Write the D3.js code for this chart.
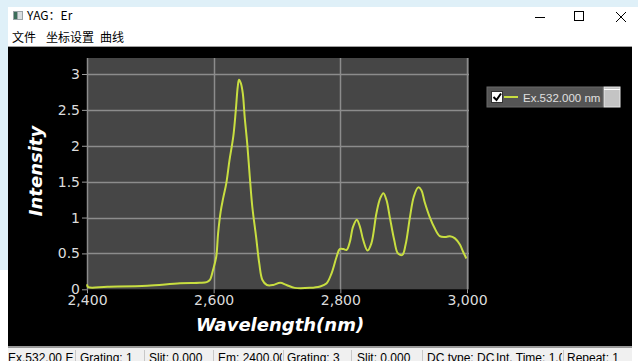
<!DOCTYPE html>
<html>
<head>
<meta charset="utf-8">
<script src="https://cdn.jsdelivr.net/npm/d3@7/dist/d3.min.js"></script>
<style>
  html, body { margin: 0; padding: 0; background: #ffffff; overflow: hidden; }
  svg { display: block; }
</style>
</head>
<body>
<svg id="win" width="638" height="361"></svg>
<script>
// Emission spectrum (Ex. 532 nm), YAG:Er sample
const wavelength = [2400, 2402, 2432, 2495, 2547, 2578, 2589, 2594, 2599, 2604, 2607, 2611, 2615, 2620, 2625, 2631, 2635, 2638, 2640, 2643, 2646, 2649, 2653, 2657, 2661, 2667, 2672, 2677, 2684, 2694, 2705, 2715, 2728, 2752, 2768, 2778, 2786, 2794, 2799, 2805, 2810, 2815, 2820, 2826, 2831, 2836, 2843, 2849, 2857, 2863, 2868, 2873, 2878, 2885, 2891, 2898, 2903, 2910, 2916, 2923, 2928, 2933, 2941, 2949, 2957, 2967, 2973, 2981, 2989, 2994, 2999];
const intensity  = [0.07, 0.03, 0.036, 0.05, 0.084, 0.09, 0.10, 0.13, 0.27, 0.45, 0.78, 1.08, 1.27, 1.48, 1.80, 2.13, 2.50, 2.82, 2.92, 2.87, 2.73, 2.40, 2.03, 1.57, 1.15, 0.73, 0.36, 0.13, 0.06, 0.06, 0.09, 0.06, 0.02, 0.02, 0.04, 0.08, 0.22, 0.45, 0.56, 0.56, 0.55, 0.66, 0.87, 0.97, 0.87, 0.69, 0.54, 0.64, 1.06, 1.27, 1.34, 1.24, 1.01, 0.69, 0.50, 0.48, 0.62, 1.01, 1.29, 1.42, 1.38, 1.22, 1.01, 0.85, 0.74, 0.73, 0.74, 0.71, 0.62, 0.52, 0.43];

const xTicks = [2400, 2600, 2800, 3000];
const yTicks = [0, 0.5, 1, 1.5, 2, 2.5, 3];
const menuItems = ["文件", "坐标设置", "曲线"];
const statusCells = [
  {text: "Ex.532.00   E", x: 8, end: 75},
  {text: "Grating: 1", x: 80, end: 144},
  {text: "Slit: 0.000", x: 149, end: 213},
  {text: "Em: 2400.00", x: 218, end: 283},
  {text: "Grating: 3", x: 287, end: 351},
  {text: "Slit: 0.000", x: 357, end: 422},
  {text: "DC type: DCS", x: 427, end: 496},
  {text: "Int. Time: 1.0(", x: 496, end: 563},
  {text: "Repeat: 1", x: 567, end: 632}
];
const statusSeparators = [75, 144, 213, 283, 351, 422, 563];
const seriesName = "Ex.532.000 nm";

const svg = d3.select("#win");
const uiFont = "'Noto Sans CJK SC', 'Noto Sans', sans-serif";
const plotFont = "'DejaVu Sans', Verdana, sans-serif";
const barFont = "'Liberation Sans', Arial, sans-serif";

// ---- window chrome ----
svg.append("rect").attr("x", 0).attr("y", 0).attr("width", 638).attr("height", 361).attr("fill", "#ffffff");
svg.append("rect").attr("x", 0).attr("y", 0).attr("width", 638).attr("height", 7).attr("fill", "#dff0f8");
svg.append("rect").attr("x", 0).attr("y", 0).attr("width", 8).attr("height", 270).attr("fill", "#dff0f8");

// title icon + title
const icon = svg.append("g").attr("transform", "translate(13,11)");
icon.append("rect").attr("width", 10).attr("height", 9).attr("fill", "#9aa4a8");
icon.append("rect").attr("x", 1).attr("y", 1).attr("width", 3).attr("height", 7).attr("fill", "#3c6e5a");
icon.append("rect").attr("x", 5).attr("y", 1).attr("width", 4).attr("height", 7).attr("fill", "#d8dde0");
svg.append("text").attr("x", 27).attr("y", 20).attr("font-family", uiFont).attr("font-size", 12)
  .attr("fill", "#000").text("YAG：Er");

// window buttons
svg.append("line").attr("x1", 535).attr("x2", 545).attr("y1", 17.5).attr("y2", 17.5).attr("stroke", "#000").attr("stroke-width", 1);
svg.append("rect").attr("x", 574.5).attr("y", 11.5).attr("width", 9).attr("height", 9).attr("fill", "none").attr("stroke", "#000").attr("stroke-width", 1);
svg.append("path").attr("d", "M616,12L626,22M626,12L616,22").attr("stroke", "#000").attr("stroke-width", 1);

// menu
const menuX = [12, 46, 100];
svg.selectAll("text.menu").data(menuItems).join("text").attr("class", "menu")
  .attr("x", (d, i) => menuX[i]).attr("y", 42).attr("font-family", uiFont).attr("font-size", 12)
  .attr("fill", "#000").text(d => d);

// ---- chart panel ----
svg.append("rect").attr("x", 8).attr("y", 46).attr("width", 624).attr("height", 1).attr("fill", "#a0a0a0");
svg.append("rect").attr("x", 8).attr("y", 47).attr("width", 624).attr("height", 299).attr("fill", "#000000");

const x = d3.scaleLinear().domain([2400, 3000]).range([87, 467]);
const y = d3.scaleLinear().domain([0, 3]).range([289.3, 74]);
const plotTop = 58;

svg.append("rect").attr("x", x(2400)).attr("y", plotTop)
  .attr("width", x(3000) - x(2400) + 2).attr("height", y(0) - plotTop).attr("fill", "#464646");

// gridlines
svg.append("g").selectAll("line").data(yTicks.filter(d => d > 0)).join("line")
  .attr("x1", x(2400)).attr("x2", x(3000) + 2)
  .attr("y1", d => Math.round(y(d)) + 0.5).attr("y2", d => Math.round(y(d)) + 0.5)
  .attr("stroke", "#8c8c8c").attr("stroke-width", 1.5);
svg.append("g").selectAll("line").data(xTicks).join("line")
  .attr("x1", d => Math.round(x(d)) + 0.5).attr("x2", d => Math.round(x(d)) + 0.5)
  .attr("y1", plotTop).attr("y2", y(0))
  .attr("stroke", "#8c8c8c").attr("stroke-width", 1.5);

// axes
const yAxis = svg.append("g").attr("transform", `translate(${x(2400)},0)`)
  .call(d3.axisLeft(y).tickValues(yTicks).tickSize(5).tickPadding(2).tickFormat(d3.format("")));
const xAxis = svg.append("g").attr("transform", `translate(0,${y(0)})`)
  .call(d3.axisBottom(x).tickValues(xTicks).tickSize(4).tickPadding(2).tickFormat(d3.format(",")));
[yAxis, xAxis].forEach(g => {
  g.select(".domain").remove();
  g.selectAll(".tick line").attr("stroke", "#9a9a9a");
  g.selectAll(".tick text").attr("fill", "#dcdcdc").attr("font-family", plotFont).attr("font-size", 14);
});

// axis titles
svg.append("text").attr("transform", "translate(42,171) rotate(-90)")
  .attr("text-anchor", "middle").attr("font-family", plotFont).attr("font-size", 18)
  .attr("font-weight", "bold").attr("font-style", "italic").attr("fill", "#ffffff").text("Intensity");
svg.append("text").attr("x", 280).attr("y", 331)
  .attr("text-anchor", "middle").attr("font-family", plotFont).attr("font-size", 18)
  .attr("font-weight", "bold").attr("font-style", "italic").attr("fill", "#ffffff").text("Wavelength(nm)");

// spectrum line
const pts = wavelength.map((w, i) => [w, intensity[i]]);
const line = d3.line().x(d => x(d[0])).y(d => y(d[1])).curve(d3.curveCatmullRom.alpha(0.5));
svg.append("path").datum(pts).attr("d", line)
  .attr("fill", "none").attr("stroke", "#c8de40").attr("stroke-width", 2).attr("stroke-linejoin", "round");

// legend
const lg = svg.append("g").attr("transform", "translate(487,87)");
lg.append("rect").attr("width", 116).attr("height", 20).attr("fill", "#555555").attr("stroke", "#6a6a6a");
lg.append("rect").attr("x", 4.5).attr("y", 4.5).attr("width", 11).attr("height", 11).attr("fill", "#ffffff").attr("stroke", "#333");
lg.append("path").attr("d", "M6.5,10 L9.5,13 L14,6.5").attr("fill", "none").attr("stroke", "#000").attr("stroke-width", 2);
lg.append("line").attr("x1", 17).attr("x2", 31).attr("y1", 10).attr("y2", 10).attr("stroke", "#c8de40").attr("stroke-width", 2);
lg.append("text").attr("x", 36).attr("y", 14.5).attr("font-family", barFont).attr("font-size", 11.5)
  .attr("fill", "#e0e0e0").text(seriesName);
svg.append("rect").attr("x", 604).attr("y", 87).attr("width", 16).attr("height", 20).attr("fill", "#c4c4c4").attr("stroke", "#e8e8e8");
svg.append("line").attr("x1", 604).attr("x2", 620).attr("y1", 89.5).attr("y2", 89.5).attr("stroke", "#ffffff");

// ---- status bar ----
svg.append("rect").attr("x", 8).attr("y", 346).attr("width", 624).attr("height", 2).attr("fill", "#9a9a9a");
svg.append("rect").attr("x", 8).attr("y", 348).attr("width", 624).attr("height", 13).attr("fill", "#f0f0f0");
const defs = svg.append("defs");
statusCells.forEach((c, i) => {
  defs.append("clipPath").attr("id", "cell" + i)
    .append("rect").attr("x", c.x).attr("y", 348).attr("width", c.end - c.x - 1).attr("height", 13);
});
svg.selectAll("line.sep").data(statusSeparators).join("line").attr("class", "sep")
  .attr("x1", d => d + 0.5).attr("x2", d => d + 0.5).attr("y1", 350).attr("y2", 361)
  .attr("stroke", "#c8c8c8");
svg.selectAll("text.status").data(statusCells).join("text").attr("class", "status")
  .attr("clip-path", (d, i) => `url(#cell${i})`)
  .attr("x", d => d.x).attr("y", 362).attr("font-family", barFont).attr("font-size", 12)
  .attr("fill", "#000").text(d => d.text);
</script>
</body>
</html>
